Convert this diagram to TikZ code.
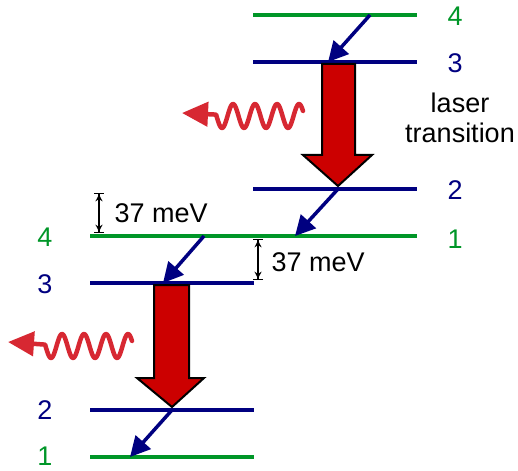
\documentclass[tikz,border=0pt]{standalone}
\usepackage{fontspec}
\setmainfont{Liberation Sans}
\usetikzlibrary{arrows.meta, calc}
\definecolor{lvgreen}{RGB}{0,150,40}
\definecolor{lvnavy}{RGB}{0,0,128}
\definecolor{lasred}{RGB}{204,0,0}
\definecolor{phred}{RGB}{215,40,50}

\begin{document}
\begin{tikzpicture}[x=1pt, y=-1pt,
  lvg/.style={draw=lvgreen, line width=4pt},
  lvb/.style={draw=lvnavy, line width=4pt},
  lbg/.style={text=lvgreen, font=\fontsize{27}{31}\selectfont},
  lbb/.style={text=lvnavy, font=\fontsize{27}{31}\selectfont},
  txt/.style={font=\fontsize{27}{30}\selectfont},
  relax/.style={-{Triangle[length=20pt,width=20pt]}, line width=3.5pt, draw=lvnavy},
  lasing/.style={draw=black, line width=2pt, fill=lasred, line join=miter},
  photon/.style={-{Triangle[length=26pt,width=24pt]}, draw=phred, line width=4.5pt, line join=round, line cap=round},
  dim/.style={{Bar[width=10pt]Stealth[length=7pt,width=7pt]}-{Stealth[length=7pt,width=7pt]Bar[width=10pt]}, line width=1.3pt}
]
\useasboundingbox (0,0) rectangle (518,470);

% upper stage
\coordinate (u4a) at (253,15);  \coordinate (u4b) at (417,15);
\coordinate (u3a) at (253,62);  \coordinate (u3b) at (417,62);
\coordinate (u2a) at (253,189); \coordinate (u2b) at (417,189);
\coordinate (u1a) at (253,236); \coordinate (u1b) at (417,236);
\draw[lvg] (u4a) -- (u4b);
\draw[lvb] (u3a) -- (u3b);
\draw[lvb] (u2a) -- (u2b);
\draw[lvg] (u1a) -- (u1b);
\node[lbg] (nu4) at (455,16) {4};
\node[lbb] (nu3) at (455,63) {3};
\node[lbb] (nu2) at (455,190) {2};
\node[lbg] (nu1) at (455,239) {1};
\node[txt, align=center] (lt) at (460,118) {laser\\transition};

% lower stage
\coordinate (l4a) at (90,236);  \coordinate (l4b) at (254,236);
\coordinate (l3a) at (90,283);  \coordinate (l3b) at (254,283);
\coordinate (l2a) at (90,410);  \coordinate (l2b) at (254,410);
\coordinate (l1a) at (90,457);  \coordinate (l1b) at (254,457);
\draw[lvg] (l4a) -- (l4b);
\draw[lvb] (l3a) -- (l3b);
\draw[lvb] (l2a) -- (l2b);
\draw[lvg] (l1a) -- (l1b);
\node[lbg] (nl4) at (45,237) {4};
\node[lbb] (nl3) at (45,284) {3};
\node[lbb] (nl2) at (45,410) {2};
\node[lbg] (nl1) at (45,456) {1};

% laser transitions
\filldraw[lasing] (322,64) -- (355,64) -- (355,155) -- (372,155) -- (338,186) -- (303,155) -- (322,155) -- cycle;
\filldraw[lasing] (154,285) -- (189,285) -- (189,378) -- (204,378) -- (172,407) -- (137,378) -- (154,378) -- cycle;

% relaxation
\coordinate (r1s) at (370,15);  \coordinate (r1e) at (328,62);
\coordinate (r2s) at (338,189); \coordinate (r2e) at (295,236);
\coordinate (r3s) at (204,236); \coordinate (r3e) at (163,283);
\coordinate (r4s) at (172,410); \coordinate (r4e) at (130,457);
\draw[relax] (r1s) -- (r1e);
\draw[relax] (r2s) -- (r2e);
\draw[relax] (r3s) -- (r3e);
\draw[relax] (r4s) -- (r4e);

% photons
\coordinate (ph1s) at (303,113); \coordinate (ph1e) at (182,113);
\coordinate (ph2s) at (132,343); \coordinate (ph2e) at (8,342);
\draw[photon, shift={(ph1s)}] plot[domain=0:3.95, samples=90, smooth] (-22*\x, {3+12*sin(360*\x-155)}) -- (ph1e);
\draw[photon, shift={(ph2s)}] plot[domain=0:3.95, samples=90, smooth] (-22*\x, {3+12*sin(360*\x-155)}) -- (ph2e);

% energy gaps
\coordinate (d1t) at (99,193);  \coordinate (d1b) at (99,233);
\coordinate (d2t) at (258,239); \coordinate (d2b) at (258,280);
\draw[dim] (d1t) -- (d1b);
\draw[dim] (d2t) -- (d2b);
\node[txt, anchor=west] (e1) at (111,213) {37 meV};
\node[txt, anchor=west] (e2) at (268,262) {37 meV};
\end{tikzpicture}
\end{document}
